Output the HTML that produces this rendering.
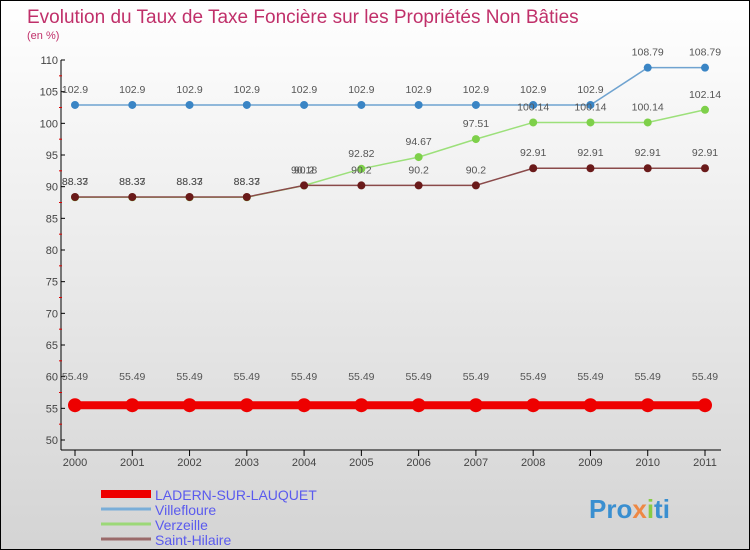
<!DOCTYPE html>
<html><head><meta charset="utf-8"><style>
body{margin:0}
#c{position:relative;width:748px;height:548px;border:1px solid #000;background:linear-gradient(#fff,#d4d4d4);font-family:"Liberation Sans",sans-serif;overflow:hidden}
</style></head><body>
<div id="c">
<svg id="s" width="748" height="548" style="position:absolute;left:0;top:0" font-family="Liberation Sans, sans-serif">
<text x="26" y="22" font-size="19" fill="#c0306a">Evolution du Taux de Taxe Foncière sur les Propriétés Non Bâties</text>
<text x="26" y="38" font-size="11" fill="#c0306a">(en %)</text>
<g id="g"></g>
<text x="588" y="517" font-size="26" font-weight="bold" fill="#3a8fd0">Pro<tspan fill="#e84">x</tspan><tspan fill="#8c4">i</tspan>ti</text>
</svg>
</div>
<script>
const years=[2000,2001,2002,2003,2004,2005,2006,2007,2008,2009,2010,2011];
const yTicks=[50,55,60,65,70,75,80,85,90,95,100,105,110];
const ladern=[55.49,55.49,55.49,55.49,55.49,55.49,55.49,55.49,55.49,55.49,55.49,55.49];
const villefloure=[102.9,102.9,102.9,102.9,102.9,102.9,102.9,102.9,102.9,102.9,108.79,108.79];
const verzeille=[88.33,88.33,88.33,88.33,90.18,92.82,94.67,97.51,100.14,100.14,100.14,102.14];
const saintHilaire=[88.37,88.37,88.37,88.37,90.2,90.2,90.2,90.2,92.91,92.91,92.91,92.91];
const seriesNames=["LADERN-SUR-LAUQUET","Villefloure","Verzeille","Saint-Hilaire"];
const NS="http://www.w3.org/2000/svg";
const g=document.getElementById('g');
const X=i=>74+i*(630/11);
const Y=v=>439-(v-50)*(380/60);
function el(t,a,p){const e=document.createElementNS(NS,t);for(const k in a)e.setAttribute(k,a[k]);(p||g).appendChild(e);return e;}
let ya=el('line',{x1:60,y1:59,x2:60,y2:449,stroke:'#000'});


let xa=el('line',{x1:60,y1:449,x2:720,y2:449,stroke:'#000'});


yTicks.forEach(v=>{
 el('line',{x1:60,y1:Y(v),x2:64,y2:Y(v),stroke:'#000'});
 if(v<110) el('line',{x1:58,y1:Y(v+2.5),x2:61,y2:Y(v+2.5),stroke:'#d00'});
 const t=el('text',{x:57,y:Y(v)+4,'font-size':11,'text-anchor':'end',fill:'#444'});
 t.textContent=v;
 
 
});
years.forEach((y,i)=>{
 el('line',{x1:X(i),y1:449,x2:X(i),y2:455,stroke:'#000'});
 const t=el('text',{x:X(i),y:465,'font-size':11,'text-anchor':'middle',fill:'#444'});
 t.textContent=y;
 
 
});
function series(data,color,dot,w,r,off,name){
 const pl=el('polyline',{points:data.map((v,i)=>X(i)+','+Y(v)).join(' '),fill:'none',stroke:color,'stroke-width':w});
 
 
 data.forEach((v,i)=>{
  const c=el('circle',{cx:X(i),cy:Y(v),r:r,fill:dot});
  
  
  const t=el('text',{x:X(i),y:Y(v)-off,'font-size':10.5,'text-anchor':'middle',fill:'#555'});
  t.textContent=String(v);
  
  
 });
}
series(villefloure,'#6fa3d0','#3a85c5',1.5,4,12,'villefloure');
series(verzeille,'#9ce07a','#7ed04a',1.5,4,12,'verzeille');
series(saintHilaire,'#8a4a4a','#6a1a1a',1.5,4,12,'saint-hilaire');
series(ladern,'#e00','#e00',8,7,25,'ladern');
const lc=['#e00','#7aaed8','#9cd878','#9a6a6a'],lw=[8,3,3,3];
seriesNames.forEach((n,i)=>{
 const yy=493+i*15;
 const l=el('line',{x1:100,y1:yy,x2:150,y2:yy,stroke:lc[i],'stroke-width':lw[i]});
 
 
 const t=el('text',{x:154,y:yy+6,'font-size':14,fill:'#5a5aee'});
 t.textContent=n;
 
 
});
</script>
</body></html>
